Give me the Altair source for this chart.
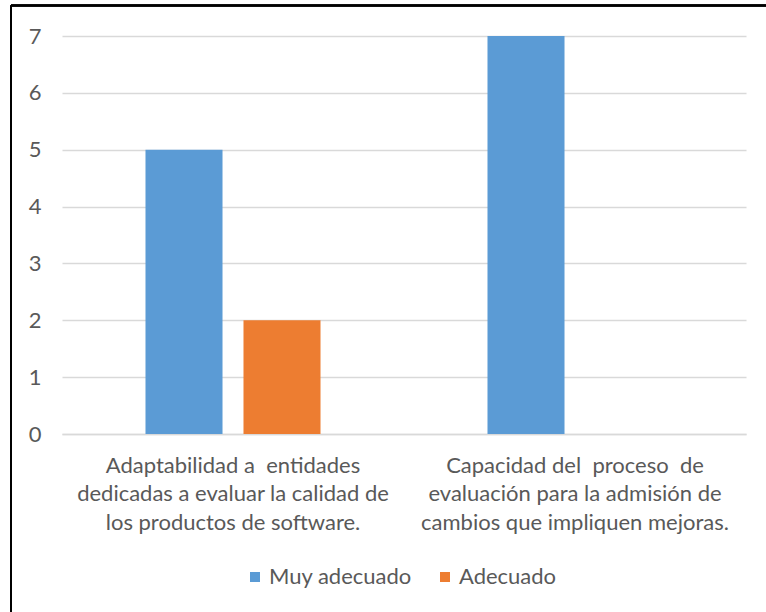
import altair as alt
import pandas as pd

# Survey results: rating counts per evaluated criterion
categories = [
    "Adaptabilidad a\u00a0 entidades|dedicadas a evaluar la calidad de|los productos de software.",
    "Capacidad del\u00a0 proceso\u00a0 de|evaluación para la admisión de|cambios que impliquen mejoras.",
]
series = ["Muy adecuado", "Adecuado"]
muy_adecuado = [5, 7]
adecuado = [2, 0]

rows = []
for cat, a, b in zip(categories, muy_adecuado, adecuado):
    rows.append({"criterio": cat, "serie": series[0], "valor": a})
    rows.append({"criterio": cat, "serie": series[1], "valor": b})
df = pd.DataFrame(rows)

FONT = "Lato"
TEXT = "#595959"
SIZE = 22

bars = alt.Chart(df).mark_bar().encode(
    x=alt.X(
        "criterio:N",
        sort=categories,
        scale=alt.Scale(paddingInner=0, paddingOuter=0),
        axis=alt.Axis(
            title=None,
            labelAngle=0,
            labelExpr="split(datum.label, '|')",
            labelFont=FONT,
            labelFontSize=SIZE,
            labelColor=TEXT,
            labelLineHeight=28.7,
            labelPadding=21,
            labelBaseline="top",
            labelLimit=400,
            ticks=False,
            domainColor="#D9D9D9",
            domainWidth=1.3,
        ),
    ),
    xOffset=alt.XOffset(
        "serie:N",
        sort=series,
        scale=alt.Scale(paddingInner=0.214, paddingOuter=0.852),
    ),
    y=alt.Y(
        "valor:Q",
        scale=alt.Scale(domain=[0, 7], nice=False),
        axis=alt.Axis(
            title=None,
            values=list(range(0, 8)),
            format="d",
            labelFont=FONT,
            labelFontSize=SIZE,
            labelColor=TEXT,
            labelPadding=21,
            ticks=False,
            domain=False,
            gridColor="#D9D9D9",
            gridWidth=1.3,
        ),
    ),
    color=alt.Color(
        "serie:N",
        sort=series,
        scale=alt.Scale(domain=series, range=["#5B9BD5", "#ED7D31"]),
        legend=alt.Legend(
            title=None,
            orient="none",
            direction="horizontal",
            legendX=182,
            legendY=530,
            symbolType="square",
            symbolSize=100,
            symbolStrokeWidth=0,
            labelFont=FONT,
            labelFontSize=SIZE,
            labelColor=TEXT,
            labelOffset=3,
            columnPadding=22,
        ),
    ),
)

# Outer frame of the chart (top and left edges)
frame_top = alt.Chart(df).mark_rule(color="#000000", strokeWidth=2, clip=False).encode(
    x=alt.value(-51), x2=alt.value(720), y=alt.value(-30.5)
)
frame_left = alt.Chart(df).mark_rule(color="#000000", strokeWidth=2, clip=False).encode(
    x=alt.value(-51), y=alt.value(-30.5), y2=alt.value(600)
)

chart = (
    alt.layer(bars, frame_top, frame_left)
    .properties(
        width=684,
        height=398,
        padding={"left": 62, "top": 36, "right": 20, "bottom": 178},
        autosize=alt.AutoSizeParams(type="none"),
        background="white",
    )
    .configure_view(stroke=None)
)

chart.save("out.html", embed_options={"renderer": "svg", "actions": False})
